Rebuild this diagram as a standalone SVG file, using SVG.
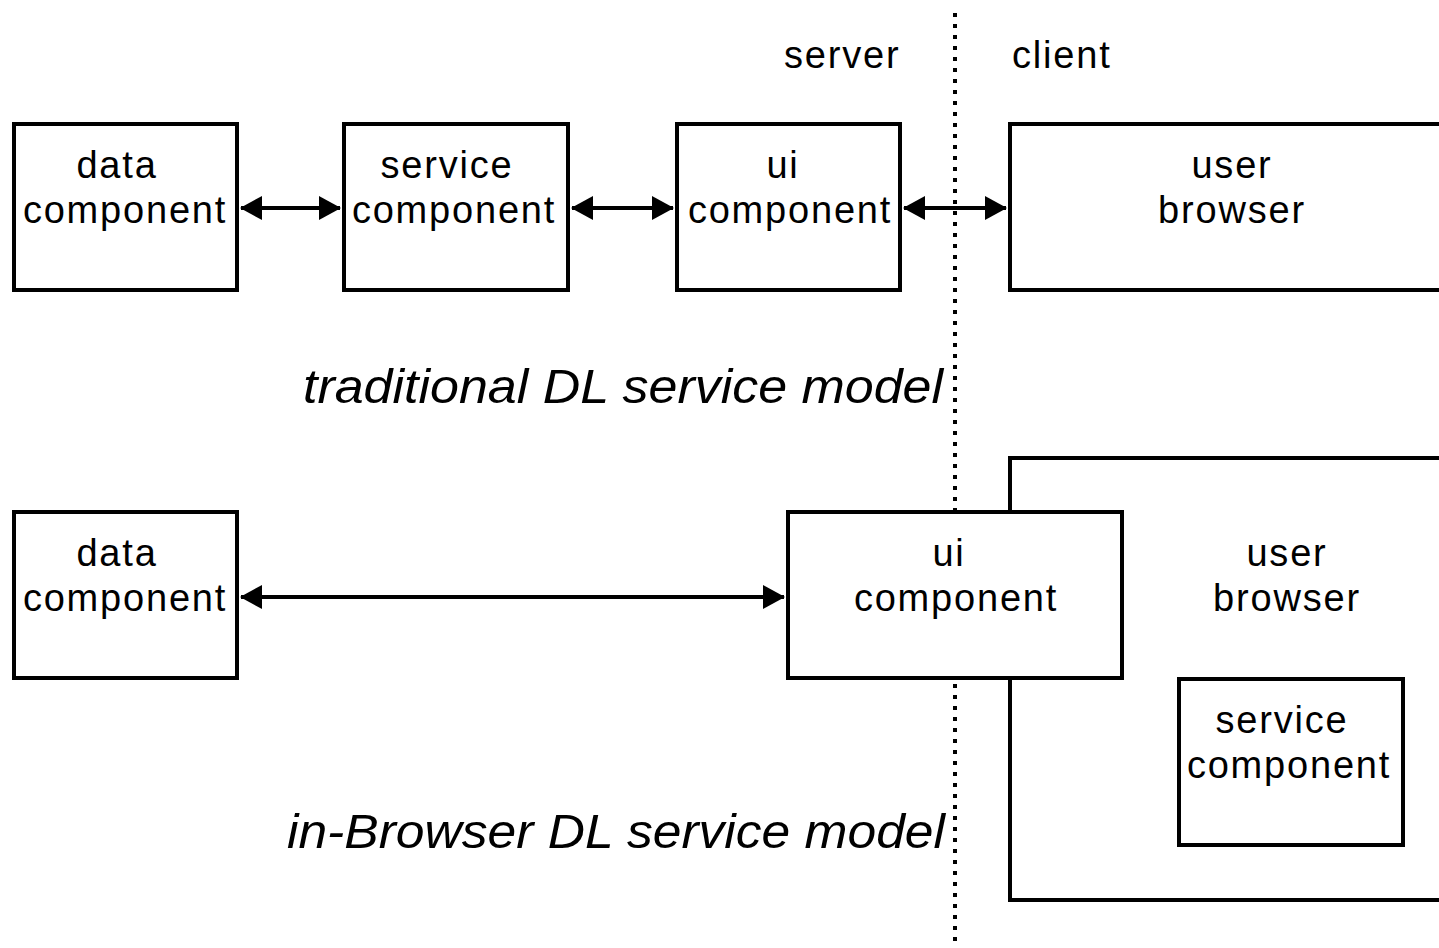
<svg xmlns="http://www.w3.org/2000/svg" width="1439" height="948" viewBox="0 0 1439 948">
<style>
.box{fill:#fff;stroke:#000;stroke-width:4}
.lbl{font-family:"Liberation Sans",Arial,sans-serif;font-size:38px;letter-spacing:1.8px;fill:#000;text-anchor:middle}
.hdr{font-family:"Liberation Sans",Arial,sans-serif;font-size:38px;letter-spacing:1.8px;fill:#000}
.ttl{font-family:"Liberation Sans",Arial,sans-serif;font-size:49px;font-style:italic;fill:#000}
.con{stroke:#000;stroke-width:4;fill:none;marker-start:url(#ah);marker-end:url(#ah)}
.sep{stroke:#000;stroke-width:4;stroke-dasharray:4 7;fill:none}
</style>
<defs>
<marker id="ah" viewBox="0 0 22 24" refX="21" refY="12" markerWidth="22" markerHeight="24" markerUnits="userSpaceOnUse" orient="auto-start-reverse">
<path d="M0,0 L22,12 L0,24 Z" fill="#000"/>
</marker>
</defs>
<g id="separator">
<line class="sep" x1="955" y1="13" x2="955" y2="948"/>
</g>
<g id="headers">
<text class="hdr" x="784" y="68">server</text>
<text class="hdr" x="1012" y="68">client</text>
</g>
<g id="browser2">
<path class="box" d="M1439,458 L1010,458 L1010,900 L1439,900"/>
<text class="lbl" x="1287" y="566">user</text>
<text class="lbl" x="1287" y="611">browser</text>
</g>
<g id="data1">
<rect class="box" x="14" y="124" width="223" height="166"/>
<text class="lbl" x="117" y="178">data</text>
<text class="lbl" x="125" y="223">component</text>
</g>
<g id="service1">
<rect class="box" x="344" y="124" width="224" height="166"/>
<text class="lbl" x="447" y="178">service</text>
<text class="lbl" x="454" y="223">component</text>
</g>
<g id="ui1">
<rect class="box" x="677" y="124" width="223" height="166"/>
<text class="lbl" x="783" y="178">ui</text>
<text class="lbl" x="790" y="223">component</text>
</g>
<g id="browser1">
<path class="box" d="M1439,124 L1010,124 L1010,290 L1439,290"/>
<text class="lbl" x="1232" y="178">user</text>
<text class="lbl" x="1232" y="223">browser</text>
</g>
<g id="data2">
<rect class="box" x="14" y="512" width="223" height="166"/>
<text class="lbl" x="117" y="566">data</text>
<text class="lbl" x="125" y="611">component</text>
</g>
<g id="ui2">
<rect class="box" x="788" y="512" width="334" height="166"/>
<text class="lbl" x="949" y="566">ui</text>
<text class="lbl" x="956" y="611">component</text>
</g>
<g id="service2">
<rect class="box" x="1179" y="679" width="224" height="166"/>
<text class="lbl" x="1282" y="733">service</text>
<text class="lbl" x="1289" y="778">component</text>
</g>
<g id="titles">
<text class="ttl" x="303" y="403" textLength="640" lengthAdjust="spacingAndGlyphs">traditional DL service model</text>
<text class="ttl" x="287" y="848" textLength="658" lengthAdjust="spacingAndGlyphs">in-Browser DL service model</text>
</g>
<g id="connectors">
<line class="con" x1="241" y1="208" x2="340" y2="208"/>
<line class="con" x1="572" y1="208" x2="673" y2="208"/>
<line class="con" x1="904" y1="208" x2="1006" y2="208"/>
<line class="con" x1="241" y1="597" x2="784" y2="597"/>
</g>
</svg>
